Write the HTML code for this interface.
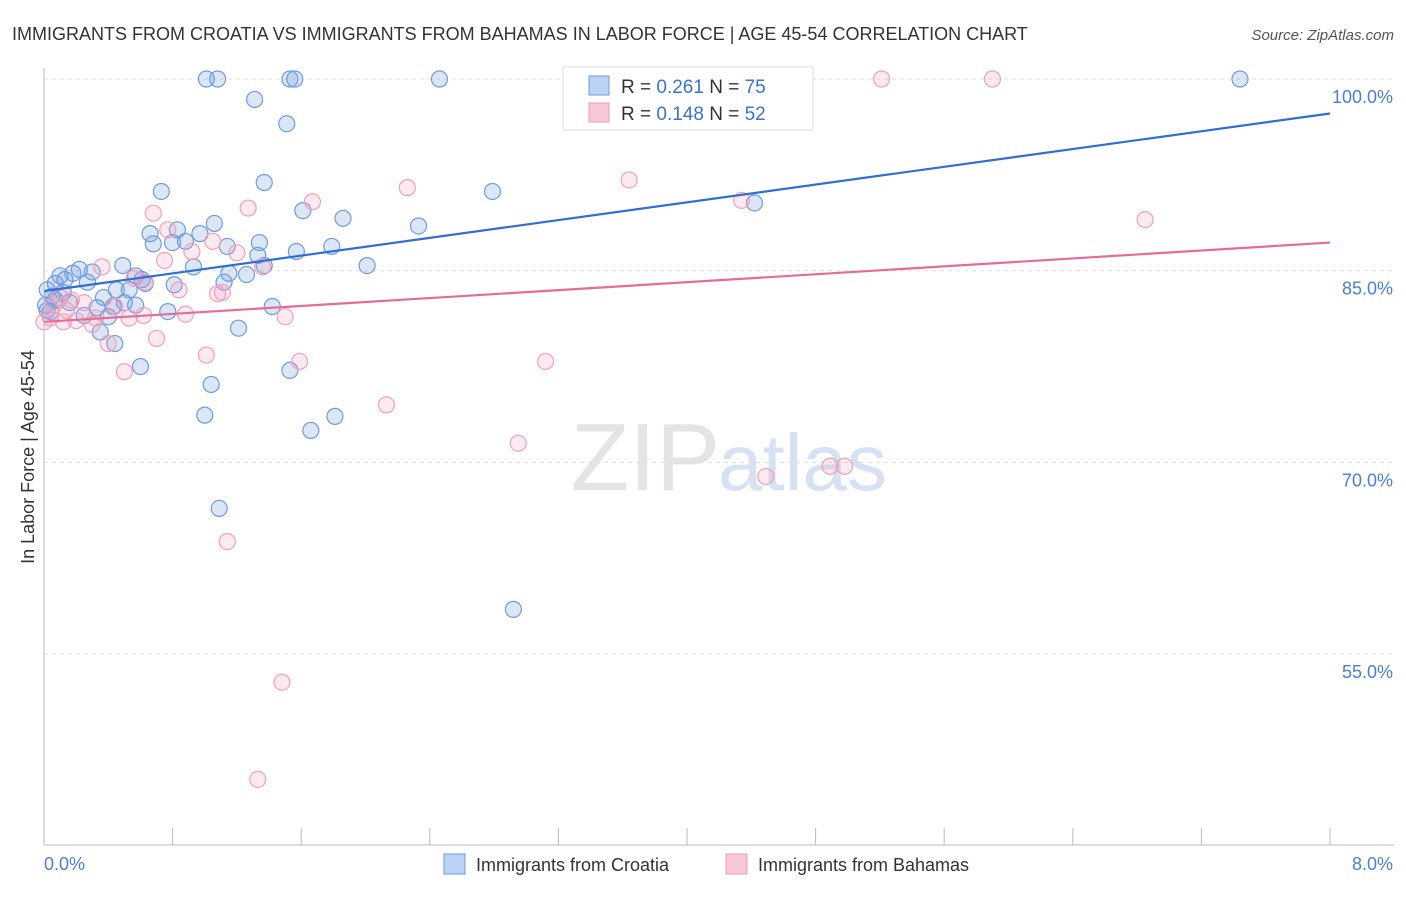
<!DOCTYPE html>
<html><head><meta charset="utf-8"><style>
body{margin:0;background:#fff;font-family:"Liberation Sans",sans-serif}
svg text{font-family:"Liberation Sans",sans-serif}
</style></head><body>
<svg id="chart" width="1406" height="892">
<text x="12" y="40" font-size="18" fill="#333">IMMIGRANTS FROM CROATIA VS IMMIGRANTS FROM BAHAMAS IN LABOR FORCE | AGE 45-54 CORRELATION CHART</text>
<text x="1394" y="40" font-size="15" fill="#555" font-style="italic" text-anchor="end">Source: ZipAtlas.com</text>
<text x="720" y="490" font-size="96" fill="#e4e4e4" text-anchor="end" font-family="Liberation Serif">ZIP</text>
<text x="718" y="490" font-size="80" fill="#d6e2f4">atlas</text>
<text transform="translate(34,457) rotate(-90)" font-size="18" fill="#333" text-anchor="middle">In Labor Force | Age 45-54</text>
<g id="grid"></g><g id="pts"></g><g id="trends"></g>
<line x1="44" y1="68" x2="44" y2="845" stroke="#bbb"/>
<line x1="44" y1="845" x2="1394" y2="845" stroke="#bbb"/>
<text x="44" y="870" font-size="18" fill="#4a7fd4">0.0%</text>
<text x="1393" y="870" font-size="18" fill="#4a7fd4" text-anchor="end">8.0%</text>
<g>
<rect x="563" y="67" width="250" height="63" fill="#fff" stroke="#ddd"/>
<rect x="589" y="76" width="20" height="19" fill="#bcd3f3" stroke="#6f9be0"/>
<rect x="589" y="103" width="20" height="19" fill="#f8c8d7" stroke="#ee9ab5"/>
<text x="621" y="93" font-size="19" fill="#333">R = <tspan fill="#3a73d0">0.261</tspan>   N = <tspan fill="#3a73d0">75</tspan></text>
<text x="621" y="120" font-size="19" fill="#333">R = <tspan fill="#3a73d0">0.148</tspan>   N = <tspan fill="#3a73d0">52</tspan></text>
</g>
<g>
<rect x="444" y="854" width="21" height="20" fill="#bcd3f3" stroke="#6f9be0"/>
<text x="476" y="871" font-size="18" fill="#333">Immigrants from Croatia</text>
<rect x="726" y="854" width="21" height="20" fill="#f8c8d7" stroke="#ee9ab5"/>
<text x="758" y="871" font-size="18" fill="#333">Immigrants from Bahamas</text>
</g>
</svg>
<script>
const yTicks=[100,85,70,55];
const yTickLabels=["100.0%","85.0%","70.0%","55.0%"];
const xTicks=[0,0.8,1.6,2.4,3.2,4.0,4.8,5.6,6.4,7.2,8.0];
const croatiaX=[1.01,1.08,1.53,1.56,2.46,7.44,1.31,1.51,1.37,0.73,2.79,1.61,1.86,1.06,2.33,4.42,0.66,0.83,0.97,0.68,0.80,0.88,1.14,1.34,1.57,1.79,1.33,2.01,0.49,0.93,1.37,1.26,1.15,0.57,0.63,0.81,0.22,0.30,0.18,0.10,0.13,0.27,0.07,0.02,0.05,0.37,0.53,0.45,0.16,0.33,0.50,0.57,0.43,0.77,1.42,0.04,0.25,0.40,0.35,1.21,0.44,0.60,1.04,1.53,1.00,1.81,1.66,1.09,2.92,0.07,0.01,0.12,0.61,1.12,0.02];
const croatiaY=[100,100,100,100,100,100,98.4,96.5,91.9,91.2,91.2,89.7,89.1,88.7,88.5,90.3,87.9,88.2,87.9,87.1,87.2,87.3,86.9,87.2,86.5,86.9,86.2,85.4,85.4,85.3,85.4,84.7,84.8,84.6,84.0,83.9,85.1,84.9,84.8,84.6,84.3,84.1,84.0,83.5,83.0,82.9,83.5,83.5,82.5,82.1,82.5,82.3,82.2,81.8,82.2,81.8,81.5,81.4,80.2,80.5,79.3,77.5,76.1,77.2,73.7,73.6,72.5,66.4,58.5,82.7,82.3,83.3,84.3,84.1,81.9];
const bahamasX=[4.16,5.21,5.90,2.26,3.64,1.67,1.27,4.34,0.68,6.85,0.77,1.05,0.92,1.20,0.75,1.36,0.36,0.63,0.56,0.84,1.11,1.08,0.10,0.06,0.17,0.44,0.62,0.88,1.50,0.20,0.30,0.12,0.53,0.70,0.40,1.01,1.59,3.12,0.50,2.13,2.95,4.49,4.89,4.98,1.14,1.48,1.33,0.04,0.00,0.25,0.32,0.14];
const bahamasY=[100,100,100,91.5,92.1,90.4,89.9,90.5,89.5,89.0,88.2,87.3,86.5,86.4,85.8,85.3,85.3,84.1,84.4,83.5,83.3,83.2,82.9,82.3,82.7,82.2,81.5,81.6,81.4,81.1,80.8,81.0,81.3,79.7,79.3,78.4,77.9,77.9,77.1,74.5,71.5,68.9,69.7,69.7,63.8,52.8,45.2,81.3,81.0,82.5,81.3,81.9];
const croatiaTrend=[83.4,97.3];
const bahamasTrend=[81.0,87.2];
const NS="http://www.w3.org/2000/svg";
const sx=v=>44+v*160.75;
const sy=v=>79+(100-v)*12.78;
function mk(t,a,p){const e=document.createElementNS(NS,t);for(const k in a)e.setAttribute(k,a[k]);p.appendChild(e);return e;}
const grid=document.getElementById('grid');
yTicks.forEach((t,i)=>{
 const l=mk('line',{x1:44,x2:1394,y1:sy(t),y2:sy(t),stroke:'#ddd','stroke-dasharray':'4,4'},grid);
 
 
 const tx=mk('text',{x:1393,y:sy(t)+24,'font-size':18,fill:'#4a7fd4','text-anchor':'end'},grid);
 tx.textContent=yTickLabels[i];
 
 
});
xTicks.forEach(t=>{
 const l=mk('line',{x1:sx(t),x2:sx(t),y1:828,y2:845,stroke:'#bbb'},grid);
 
 
});
const pts=document.getElementById('pts');
croatiaX.forEach((x,i)=>{
 const c=mk('circle',{cx:sx(x),cy:sy(croatiaY[i]),r:8,fill:'rgba(110,155,225,0.25)',stroke:'#6f9be0','stroke-width':1.2},pts);
 
 
});
bahamasX.forEach((x,i)=>{
 const c=mk('circle',{cx:sx(x),cy:sy(bahamasY[i]),r:8,fill:'rgba(240,150,180,0.2)',stroke:'#f0a0bb','stroke-width':1.2},pts);
 
 
});
const tr=document.getElementById('trends');
const l1=mk('line',{x1:sx(0),y1:sy(croatiaTrend[0]),x2:sx(8),y2:sy(croatiaTrend[1]),stroke:'#2f6fd6','stroke-width':2.2},tr);


const l2=mk('line',{x1:sx(0),y1:sy(bahamasTrend[0]),x2:sx(8),y2:sy(bahamasTrend[1]),stroke:'#e56b98','stroke-width':2.2},tr);


</script>
</body></html>
